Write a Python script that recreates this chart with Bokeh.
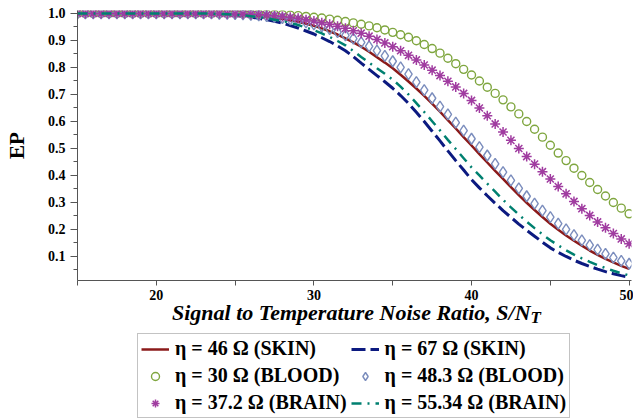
from bokeh.plotting import figure
from bokeh.layouts import column
from bokeh.models import (FixedTicker, PrintfTickFormatter, Legend, LegendItem,
                          Range1d, Div)
from bokeh.embed import file_html
from bokeh.resources import INLINE

# Signal to temperature noise ratio grid (S/N_T)
snr = [15.0 + 0.5 * i for i in range(71)]

# EP values (x = 15, 15.5, ..., 50)
ep_skin_46 = [1.0, 1.0, 1.0, 1.0, 1.0, 1.0, 1.0, 1.0, 1.0, 1.0, 1.0, 1.0, 1.0, 1.0, 1.0, 1.0,
              1.000, 0.999, 0.999, 0.998, 0.997, 0.995, 0.993, 0.991, 0.988, 0.984, 0.980,
              0.975, 0.969, 0.962, 0.954, 0.945, 0.934, 0.922, 0.908, 0.893, 0.877, 0.858,
              0.838, 0.818, 0.797, 0.773, 0.748, 0.722, 0.695, 0.666, 0.636, 0.605, 0.574,
              0.542, 0.511, 0.479, 0.448, 0.417, 0.387, 0.357, 0.327, 0.299, 0.272, 0.246,
              0.221, 0.199, 0.178, 0.158, 0.140, 0.122, 0.106, 0.091, 0.078, 0.065, 0.054]
ep_skin_67 = [1.0, 1.0, 1.0, 1.0, 1.0, 1.0, 1.0, 1.0, 1.0, 1.0, 1.0, 1.0, 1.0, 1.0, 1.0, 1.0,
              0.999, 0.998, 0.997, 0.995, 0.993, 0.990, 0.987, 0.982, 0.977, 0.971, 0.964,
              0.955, 0.946, 0.935, 0.924, 0.910, 0.896, 0.880, 0.862, 0.840, 0.816, 0.793,
              0.770, 0.747, 0.723, 0.696, 0.667, 0.634, 0.600, 0.564, 0.528, 0.491, 0.455,
              0.420, 0.385, 0.354, 0.325, 0.297, 0.270, 0.245, 0.220, 0.197, 0.175, 0.153,
              0.132, 0.115, 0.100, 0.086, 0.074, 0.063, 0.053, 0.044, 0.036, 0.029, 0.023]
ep_blood_30 = [1.0, 1.0, 1.0, 1.0, 1.0, 1.0, 1.0, 1.0, 1.0, 1.0, 1.0, 1.0, 1.0, 1.0, 1.0, 1.0,
               1.000, 1.000, 1.000, 1.000, 1.000, 1.000, 0.999, 0.999, 0.998, 0.997, 0.996,
               0.994, 0.992, 0.989, 0.986, 0.983, 0.979, 0.975, 0.970, 0.965, 0.960, 0.954,
               0.947, 0.939, 0.930, 0.921, 0.912, 0.899, 0.885, 0.870, 0.853, 0.834, 0.814,
               0.793, 0.772, 0.750, 0.727, 0.704, 0.680, 0.654, 0.628, 0.600, 0.571, 0.542,
               0.512, 0.483, 0.455, 0.427, 0.400, 0.374, 0.348, 0.324, 0.300, 0.279, 0.258]
ep_blood_483 = [1.0, 1.0, 1.0, 1.0, 1.0, 1.0, 1.0, 1.0, 1.0, 1.0, 1.0, 1.0, 1.0, 1.0, 1.0, 1.0,
                1.000, 1.000, 0.999, 0.999, 0.998, 0.997, 0.995, 0.993, 0.990, 0.987, 0.983,
                0.978, 0.973, 0.967, 0.960, 0.952, 0.942, 0.931, 0.919, 0.907, 0.893, 0.878,
                0.862, 0.843, 0.823, 0.800, 0.775, 0.746, 0.716, 0.686, 0.655, 0.626, 0.596,
                0.566, 0.536, 0.505, 0.474, 0.443, 0.412, 0.382, 0.352, 0.323, 0.296, 0.270,
                0.246, 0.222, 0.200, 0.179, 0.160, 0.142, 0.125, 0.110, 0.096, 0.084, 0.073]
ep_brain_372 = [1.0, 1.0, 1.0, 1.0, 1.0, 1.0, 1.0, 1.0, 1.0, 1.0, 1.0, 1.0, 1.0, 1.0, 1.0, 1.0,
                1.000, 1.000, 1.000, 0.999, 0.999, 0.998, 0.997, 0.996, 0.994, 0.992, 0.989,
                0.986, 0.982, 0.977, 0.972, 0.966, 0.960, 0.953, 0.945, 0.936, 0.927, 0.916,
                0.904, 0.891, 0.877, 0.862, 0.845, 0.828, 0.809, 0.790, 0.770, 0.749, 0.728,
                0.704, 0.678, 0.650, 0.621, 0.591, 0.561, 0.530, 0.500, 0.470, 0.442, 0.414,
                0.387, 0.359, 0.332, 0.304, 0.277, 0.252, 0.228, 0.206, 0.185, 0.165, 0.147]
ep_brain_5534 = [1.0, 1.0, 1.0, 1.0, 1.0, 1.0, 1.0, 1.0, 1.0, 1.0, 1.0, 1.0, 1.0, 1.0, 1.0, 1.0,
                 1.000, 0.999, 0.998, 0.997, 0.995, 0.993, 0.990, 0.986, 0.982, 0.977, 0.972,
                 0.965, 0.957, 0.948, 0.938, 0.926, 0.913, 0.898, 0.882, 0.861, 0.839, 0.818,
                 0.797, 0.777, 0.755, 0.729, 0.700, 0.668, 0.635, 0.601, 0.567, 0.532, 0.498,
                 0.464, 0.430, 0.400, 0.370, 0.340, 0.310, 0.282, 0.255, 0.229, 0.205, 0.182,
                 0.160, 0.141, 0.123, 0.107, 0.093, 0.080, 0.068, 0.057, 0.047, 0.038, 0.030]

labels = ["η = 46 Ω (SKIN)", "η = 67 Ω (SKIN)", "η = 30 Ω (BLOOD)",
          "η = 48.3 Ω (BLOOD)", "η = 37.2 Ω (BRAIN)", "η = 55.34 Ω (BRAIN)"]
x_title = "Signal to Temperature Noise Ratio, S/N"
x_title_sub = "T"
y_title = "EP"
x_ticks = [20, 30, 40, 50]
x_minor = [15, 25, 35, 45]
y_ticks = [0.1, 0.2, 0.3, 0.4, 0.5, 0.6, 0.7, 0.8, 0.9, 1.0]
y_minor = [0.05, 0.15, 0.25, 0.35, 0.45, 0.55, 0.65, 0.75, 0.85, 0.95]

SERIF = "Liberation Serif"
AX = "#555555"
LEFT = 77  # frame left edge (px); the legend strip's frame is aligned to it

styles = [
    dict(kind="line", line_color="#8B1A1A", line_width=2.5),
    dict(kind="line", line_color="#0C1A80", line_width=3, line_dash="14 5"),
    dict(kind="scatter", marker="circle", size=8, fill_color=None,
         line_color="#7FA63F", line_width=1.4),
    dict(kind="scatter", marker="diamond", size=11, fill_color=None,
         line_color="#7B8DBD", line_width=1.4),
    dict(kind="scatter", marker="asterisk", size=10, line_color="#A03CA0", line_width=1.5),
    dict(kind="line", line_color="#008070", line_width=2.5, line_dash="10 6 2 6"),
]


def draw(fig, xs, ys, st):
    st = dict(st)
    kind = st.pop("kind")
    if kind == "line":
        return fig.line(xs, ys, **st)
    return fig.scatter(xs, ys, **st)


# ---------------- main plot ----------------
p = figure(width=633, height=304, output_backend="svg", toolbar_location=None,
           x_range=Range1d(15, 50.15), y_range=Range1d(0.011, 1.011),
           min_border_left=LEFT, min_border_right=2, min_border_top=10, min_border_bottom=24)
p.outline_line_color = None
p.xgrid.visible = False
p.ygrid.visible = False

series = [ep_skin_46, ep_skin_67, ep_blood_30, ep_blood_483, ep_brain_372, ep_brain_5534]
for ys, st in zip(series, styles):
    draw(p, snr, ys, st)

for ax in (p.xaxis[0], p.yaxis[0]):
    ax.axis_line_color = AX
    ax.major_tick_line_color = AX
    ax.minor_tick_line_color = AX
    ax.major_tick_in = 0
    ax.minor_tick_in = 0
    ax.major_label_text_font = SERIF
    ax.major_label_text_font_style = "bold"
    ax.major_label_text_font_size = "14px"
    ax.major_label_text_color = "black"
    ax.axis_label_text_font = SERIF
    ax.axis_label_text_color = "black"

p.xaxis.ticker = FixedTicker(ticks=x_ticks, minor_ticks=x_minor)
p.xaxis.major_tick_out = 5
p.xaxis.minor_tick_out = 5
p.xaxis.major_label_standoff = 4

p.yaxis.ticker = FixedTicker(ticks=y_ticks, minor_ticks=y_minor)
p.yaxis.formatter = PrintfTickFormatter(format="%.1f")
p.yaxis.major_tick_out = 7
p.yaxis.minor_tick_out = 4
p.yaxis.major_label_standoff = 5
p.yaxis.axis_label = y_title
p.yaxis.axis_label_text_font_style = "bold"
p.yaxis.axis_label_text_font_size = "21px"
p.yaxis.axis_label_standoff = 16

# ---------------- x-axis title (HTML text with a real subscript) ----------------
title_html = (
    '<div style="font-family: \'Liberation Serif\', serif; font-weight: bold; '
    'font-style: italic; font-size: 22px; line-height: 18px; color: black; '
    'white-space: nowrap; padding-left: 172px; margin: 0;">'
    + x_title +
    '<span style="font-size: 17px; position: relative; top: 3px;">' + x_title_sub + '</span>'
    '</div>'
)
title_div = Div(text=title_html, width=633, height=29, margin=0)

# ---------------- legend strip ----------------
H2 = 87
q = figure(width=633, height=H2, output_backend="svg", toolbar_location=None,
           x_range=Range1d(1000, 1556), y_range=Range1d(0, H2),
           x_axis_location=None, y_axis_location=None,
           min_border_left=LEFT, min_border_right=2, min_border_top=0, min_border_bottom=0)
q.outline_line_color = None
q.xgrid.visible = False
q.ygrid.visible = False

# legend renderers reuse the series (they fall outside this strip's ranges)
legend_renderers = [draw(q, snr, ys, st) for ys, st in zip(series, styles)]
order = [0, 2, 4, 1, 3, 5]  # legend grid fills column by column
items = [LegendItem(label=labels[i], renderers=[legend_renderers[i]]) for i in order]
legend = Legend(items=items, ncols=2, location=(137 - LEFT, 2),
                label_text_font=SERIF, label_text_font_style="bold",
                label_text_font_size="20px", label_text_color="black",
                label_height=22, glyph_height=20, glyph_width=28, label_standoff=6,
                spacing=4, padding=3, margin=0,
                border_line_color="#888888", border_line_width=1,
                background_fill_alpha=1.0)
q.add_layout(legend)

layout = column(p, title_div, q, spacing=0)
open("out.html", "w").write(file_html(layout, INLINE))
